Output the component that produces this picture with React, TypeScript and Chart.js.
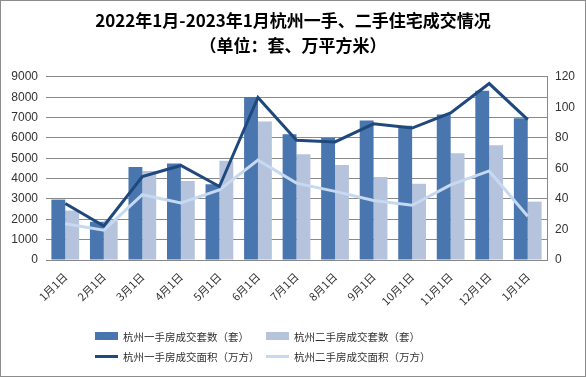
import React, { useEffect, useRef } from "react";
import { Chart, registerables } from "chart.js";

Chart.register(...registerables);

const categories = ["1月1日", "2月1日", "3月1日", "4月1日", "5月1日", "6月1日", "7月1日", "8月1日", "9月1日", "10月1日", "11月1日", "12月1日", "1月1日"];
const newHomeUnits = [2970, 1880, 4570, 4750, 3730, 8020, 6180, 6000, 6860, 6600, 7150, 8320, 6970];
const resaleUnits = [2430, 1950, 4380, 3890, 4880, 6810, 5200, 4670, 4085, 3745, 5250, 5640, 2870];
const newHomeArea = [37, 22.3, 54.7, 62, 48.2, 106.6, 78.5, 77.4, 89.3, 86.5, 96.5, 115.7, 92];
const resaleArea = [23.8, 19.5, 42.8, 37.4, 46, 65.5, 50.4, 45, 39, 35.9, 49.3, 58.4, 28.7];
const leftTicks = [0, 9000, 1000];
const rightTicks = [0, 120, 20];

const seriesNames = ["杭州一手房成交套数（套）", "杭州二手房成交套数（套）", "杭州一手房成交面积（万方）", "杭州二手房成交面积（万方）"];
const titleLines = ["2022年1月-2023年1月杭州一手、二手住宅成交情况", "（单位：套、万平方米）"];

const C_DARK_BAR = "#4A76AF";
const C_LIGHT_BAR = "#B5C3DD";
const C_DARK_LINE = "#1F497D";
const C_LIGHT_LINE = "#C6D9F1";
const FONT = "'Noto Sans CJK SC', 'Liberation Sans', sans-serif";

export default function App() {
  const ref = useRef<HTMLCanvasElement>(null);
  useEffect(() => {
    document.body.style.margin = "0";
    const ctx = ref.current!.getContext("2d")!;
    const chart = new Chart(ctx, {
      data: {
        labels: categories,
        datasets: [
          { type: "line", label: seriesNames[2], data: newHomeArea, yAxisID: "y1", borderColor: C_DARK_LINE, backgroundColor: C_DARK_LINE, borderWidth: 3, pointRadius: 0, tension: 0, order: 1 },
          { type: "line", label: seriesNames[3], data: resaleArea, yAxisID: "y1", borderColor: C_LIGHT_LINE, backgroundColor: C_LIGHT_LINE, borderWidth: 3, pointRadius: 0, tension: 0, order: 1 },
          { type: "bar", label: seriesNames[0], data: newHomeUnits, yAxisID: "y", backgroundColor: C_DARK_BAR, categoryPercentage: 0.72, barPercentage: 1, order: 2 },
          { type: "bar", label: seriesNames[1], data: resaleUnits, yAxisID: "y", backgroundColor: C_LIGHT_BAR, categoryPercentage: 0.72, barPercentage: 1, order: 2 },
        ],
      } as any,
      options: {
        animation: false,
        responsive: false,
        maintainAspectRatio: false,
        layout: { padding: { left: 0, right: 0, top: 0, bottom: 66 } },
        plugins: {
          legend: { display: false },
          tooltip: { enabled: false },
          title: {
            display: true,
            text: titleLines,
            color: "#000",
            font: { family: FONT, size: 17, weight: "bold", lineHeight: 1.47 },
            padding: { top: 7.5, bottom: 18.5 },
          },
        },
        scales: {
          x: {
            grid: { display: false },
            border: { display: true, color: "#888" },
            ticks: { color: "#333", font: { family: FONT, size: 11 }, minRotation: 45, maxRotation: 45, padding: 2 },
            afterFit: (s: any) => { s.height = 50; },
          },
          y: {
            position: "left",
            min: leftTicks[0],
            max: leftTicks[1],
            ticks: { stepSize: leftTicks[2], color: "#333", font: { family: "'Liberation Sans', sans-serif", size: 12 }, padding: 8, callback: (v: any) => String(v) },
            grid: { color: "#8a8a8a", drawTicks: false },
            border: { display: false },
            afterFit: (s: any) => { s.width = 45; },
          },
          y1: {
            position: "right",
            min: rightTicks[0],
            max: rightTicks[1],
            ticks: { stepSize: rightTicks[2], color: "#333", font: { family: "'Liberation Sans', sans-serif", size: 12 }, padding: 4, callback: (v: any) => String(v) },
            grid: { display: false, drawOnChartArea: false, tickLength: 4, color: "#888" },
            border: { display: true, color: "#888" },
            afterFit: (s: any) => { s.width = 38; },
          },
        },
      } as any,
    });
    return () => chart.destroy();
  }, []);

  const legendItem = (i: number, color: string, isLine: boolean, left: number, top: number) => (
    <div key={i} style={{ position: "absolute", left, top, height: 16, display: "flex", alignItems: "center", fontFamily: FONT, fontSize: 10.5, color: "#333", whiteSpace: "nowrap" }}>
      <span style={{ display: "inline-block", width: 23, height: isLine ? 3 : 8, background: color, marginRight: 5 }} />
      <span>{seriesNames[i]}</span>
    </div>
  );

  return (
    <div style={{ position: "relative", width: 586, height: 377, boxSizing: "border-box", border: "1px solid #8c8c8c", overflow: "hidden", background: "#fff" }}>
      <canvas ref={ref} width={584} height={375} style={{ position: "absolute", left: 0, top: 0 }} />
      {legendItem(0, C_DARK_BAR, false, 94, 327)}
      {legendItem(1, C_LIGHT_BAR, false, 265, 327)}
      {legendItem(2, C_DARK_LINE, true, 94, 347)}
      {legendItem(3, C_LIGHT_LINE, true, 265, 347)}
    </div>
  );
}
